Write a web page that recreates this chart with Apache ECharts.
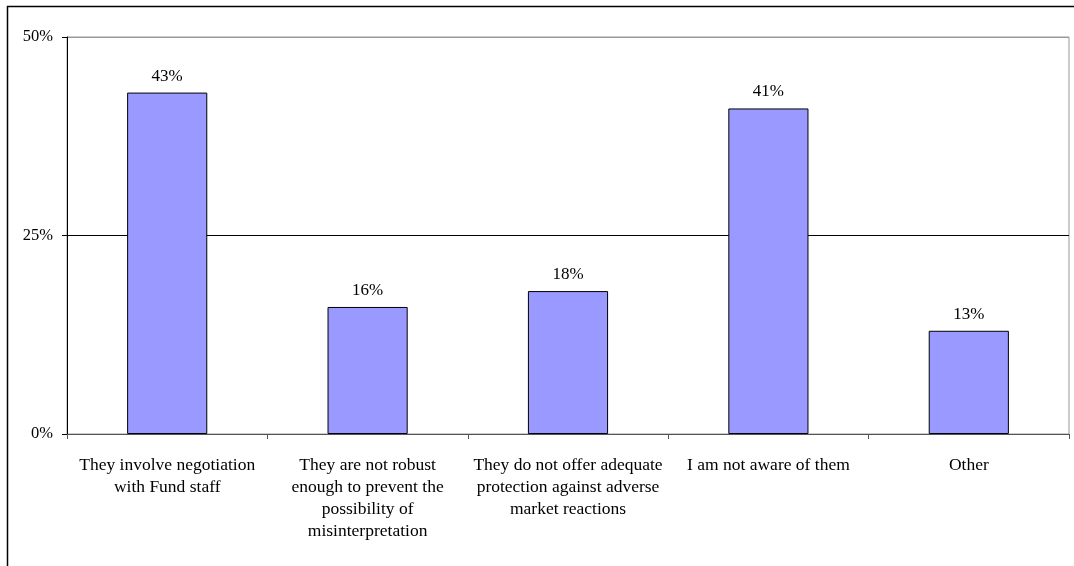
<!DOCTYPE html>
<html>
<head>
<meta charset="utf-8">
<script src="https://cdn.jsdelivr.net/npm/echarts@6/dist/echarts.min.js"></script>
<style>
  html, body { margin: 0; padding: 0; background: #fff; }
  #chart { width: 1074px; height: 566px; }
</style>
</head>
<body>
<div id="chart"></div>
<script>
// Survey answers (share of respondents, %)
const categories = [
  'They involve negotiation\nwith Fund staff',
  'They are not robust\nenough to prevent the\npossibility of\nmisinterpretation',
  'They do not offer adequate\nprotection against adverse\nmarket reactions',
  'I am not aware of them',
  'Other'
];
const values = [43, 16, 18, 41, 13];
const yTicks = [0, 25, 50];

const font = 'Liberation Serif, Times New Roman, serif';
const chart = echarts.init(document.getElementById('chart'));

chart.setOption({
  animation: false,
  backgroundColor: '#fff',
  textStyle: { fontFamily: font },
  grid: {
    left: 67, right: 5, top: 37, bottom: 132,
    show: true, borderColor: '#999', borderWidth: 1, backgroundColor: 'transparent'
  },
  xAxis: {
    type: 'category',
    data: categories,
    axisLine: { lineStyle: { color: '#555', width: 1 } },
    axisTick: { show: true, interval: 0, alignWithLabel: false, length: 5, lineStyle: { color: '#555' } },
    axisLabel: {
      interval: 0, margin: 20, color: '#000',
      fontFamily: font, fontSize: 17.5, lineHeight: 22, align: 'center'
    },
    splitLine: { show: false }
  },
  yAxis: {
    type: 'value',
    min: yTicks[0], max: yTicks[yTicks.length - 1], interval: 25,
    axisLine: { show: true, lineStyle: { color: '#000', width: 1 } },
    axisTick: { show: true, length: 5, lineStyle: { color: '#000' } },
    axisLabel: { formatter: '{value}%', color: '#000', fontFamily: font, fontSize: 16.5, margin: 14 },
    splitLine: { show: true, lineStyle: { color: ['#555', '#000', '#999'], width: 1 } }
  },
  series: [{
    type: 'bar',
    data: values,
    barWidth: '40%',
    itemStyle: { color: '#9999FF', borderColor: '#000', borderWidth: 1 },
    label: {
      show: true, position: 'top', distance: 8,
      formatter: p => p.value + '%',
      color: '#000', fontFamily: font, fontSize: 17
    }
  }],
  graphic: [
    { type: 'line', shape: { x1: 7.5, y1: 6, x2: 7.5, y2: 566 }, style: { stroke: '#000', lineWidth: 1.5 } },
    { type: 'line', shape: { x1: 7, y1: 6.5, x2: 1074, y2: 6.5 }, style: { stroke: '#000', lineWidth: 1.5 } }
  ]
});
</script>
</body>
</html>
